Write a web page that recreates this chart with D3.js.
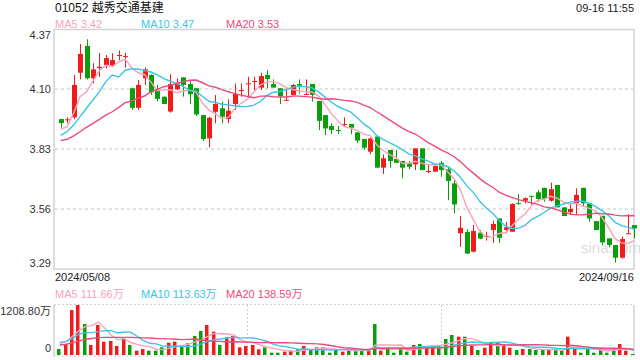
<!DOCTYPE html>
<html>
<head>
<meta charset="utf-8">
<script src="https://cdn.jsdelivr.net/npm/d3@7"></script>
<style>
body { margin: 0; background: #fff; }
svg { display: block; font-family: "Liberation Sans", Arial, "Noto Sans CJK SC", sans-serif; }
</style>
</head>
<body>
<svg></svg>
<script>
// 01052 daily k-line, 2024/05/08 - 2024/09/16, volume in 万
var opens  = [3.966,3.963,3.974,4.175,4.296,4.15,4.196,4.21,4.207,4.253,4.248,4.105,4.017,4.15,4.165,4.097,4.067,4.0,4.10,4.154,
              4.124,4.105,3.984,3.879,3.999,4.015,3.966,4.034,4.095,4.125,4.136,4.108,4.165,4.124,4.105,4.051,4.075,4.124,4.077,4.124,
              4.048,3.984,3.935,3.917,3.942,3.944,3.906,3.876,3.819,3.887,3.747,3.827,3.786,3.777,3.767,3.762,3.834,3.730,3.729,3.769,
              3.739,3.676,3.451,3.457,3.368,3.454,3.437,3.466,3.518,3.466,3.458,3.587,3.598,3.62,3.636,3.656,3.598,3.669,3.568,3.546,
              3.586,3.656,3.586,3.506,3.53,3.428,3.398,3.341,3.449,3.488];
var highs  = [3.966,3.974,4.165,4.305,4.326,4.218,4.265,4.255,4.263,4.275,4.265,4.108,4.142,4.199,4.168,4.12,4.067,4.168,4.15,4.154,
              4.142,4.105,3.984,3.977,4.075,4.045,4.055,4.127,4.127,4.157,4.157,4.175,4.187,4.145,4.105,4.105,4.124,4.145,4.145,4.124,
              4.048,3.984,3.947,3.935,3.974,3.944,3.906,3.876,3.882,3.887,3.807,3.827,3.827,3.777,3.777,3.834,3.834,3.762,3.758,3.777,
              3.751,3.696,3.529,3.469,3.488,3.466,3.458,3.508,3.518,3.503,3.586,3.628,3.613,3.62,3.646,3.656,3.679,3.669,3.568,3.586,
              3.654,3.656,3.586,3.506,3.53,3.428,3.398,3.436,3.538,3.488];
var lows   = [3.927,3.947,3.965,4.145,4.145,4.127,4.157,4.195,4.20,4.232,4.198,4.007,4.007,4.12,4.075,4.045,4.034,3.995,4.097,4.067,
              4.034,3.98,3.867,3.839,3.947,3.947,3.947,4.007,4.067,4.07,4.094,4.097,4.105,4.108,4.034,4.049,4.075,4.082,4.075,4.045,
              3.917,3.894,3.899,3.899,3.932,3.898,3.857,3.827,3.807,3.747,3.718,3.747,3.769,3.699,3.739,3.736,3.736,3.721,3.729,3.706,
              3.601,3.541,3.39,3.357,3.365,3.424,3.418,3.408,3.408,3.451,3.458,3.58,3.586,3.58,3.594,3.594,3.594,3.568,3.529,3.534,
              3.534,3.571,3.503,3.466,3.398,3.388,3.318,3.337,3.449,3.428];
var closes = [3.948,3.965,4.12,4.26,4.15,4.19,4.202,4.241,4.232,4.255,4.25,4.017,4.12,4.19,4.087,4.057,4.034,4.124,4.127,4.12,
              4.078,3.987,3.876,3.972,4.034,3.977,4.004,4.079,4.097,4.127,4.138,4.16,4.147,4.108,4.07,4.053,4.12,4.117,4.079,4.075,
              3.958,3.924,3.917,3.914,3.944,3.927,3.869,3.837,3.879,3.747,3.789,3.777,3.769,3.747,3.751,3.834,3.736,3.732,3.754,3.736,
              3.687,3.581,3.476,3.36,3.461,3.427,3.439,3.493,3.431,3.478,3.583,3.585,3.609,3.618,3.606,3.606,3.65,3.568,3.529,3.561,
              3.624,3.586,3.518,3.466,3.41,3.398,3.341,3.425,3.451,3.473];
var volumes = [145,266,1088,1208.8,750,242,725,322,339,218,387,242,105,145,105,105,185,298,322,218,
               282,459,580,725,564,242,427,459,185,218,242,137,185,56,56,81,105,137,218,121,
               185,185,56,137,81,105,137,105,105,750,105,161,56,137,81,242,266,185,218,242,
               387,484,443,443,218,121,177,298,298,266,177,121,145,145,121,121,121,121,97,443,
               145,56,161,56,161,56,137,266,105,24];

var ma5Head  = [3.92,3.932,3.992,4.067];
var ma10Head = [3.893,3.909,3.939,3.977,4.015,4.052,4.09,4.135,4.165];
var ma20Head = [3.869,3.875,3.89,3.909,3.929,3.947,3.965,3.984,3.999,4.019,4.04,4.048,4.06,4.07,4.09,4.1,4.112,4.118,4.128];
var vma5Head  = [282,322,459,588];
var vma10Head = [306,322,403,508,540,540,564,588,588];
var vma20Head = [242,260,300,340,380,400,420,425,427,427,427,427,420,415,410,400,395,390,380];

var priceTicks = [4.37, 4.10, 3.83, 3.56, 3.29];
var volTicks = [1208.8, 0];
var dateLabels = ['2024/05/08', '2024/09/16'];
var title = '01052 越秀交通基建';
var stamp = '09-16 11:55';
var maLegend = ['MA5 3.42', 'MA10 3.47', 'MA20 3.53'];
var volLegend = ['MA5 111.66万', 'MA10 113.63万', 'MA20 138.59万'];

var RED = '#f01c1c', GREEN = '#0a9f0a';
var MA_COLORS = ['#f8a3bd', '#3cc5e6', '#ec4a7c'];

var left = 54, right = 634;
var mainTop = 29.5, mainBottom = 269;
var volTop = 305, volBottom = 355;

var svg = d3.select('svg')
    .attr('width', 640)
    .attr('height', 360);

svg.append('rect').attr('width', 640).attr('height', 360).attr('fill', '#fff');

var idx = d3.range(closes.length);

var x = d3.scaleBand().domain(idx).range([57.5, 637.7]).paddingInner(0.2).paddingOuter(0.1);
var y = d3.scaleLinear().domain([3.29, 4.37]).range([mainBottom, mainTop]);
var yv = d3.scaleLinear().domain([0, 1208.8]).range([volBottom, volTop]);

function cx(i) { return x(i) + x.bandwidth() / 2; }
function isUp(i) { return closes[i] >= opens[i]; }

function movingAvg(values, n, head) {
  return values.map(function(v, i) {
    if (i < n - 1) return head[i];
    return d3.mean(values.slice(i - n + 1, i + 1));
  });
}

// ---- header text
svg.append('text')
    .attr('x', 55).attr('y', 12)
    .attr('font-size', 12).attr('fill', '#111')
    .text(title);

svg.append('text')
    .attr('x', 634).attr('y', 12)
    .attr('text-anchor', 'end')
    .attr('font-size', 11).attr('fill', '#222')
    .text(stamp);

var legendX = [55, 141, 226];
maLegend.forEach(function(t, k) {
  svg.append('text')
      .attr('x', legendX[k]).attr('y', 28)
      .attr('font-size', 11).attr('fill', MA_COLORS[k])
      .text(t);
});
volLegend.forEach(function(t, k) {
  svg.append('text')
      .attr('x', legendX[k]).attr('y', 298)
      .attr('font-size', 11).attr('fill', MA_COLORS[k])
      .text(t);
});

// ---- main panel frame + grid
svg.append('rect')
    .attr('x', left).attr('y', mainTop)
    .attr('width', right - left).attr('height', mainBottom - mainTop)
    .attr('fill', 'none').attr('stroke', '#d2d2d2').attr('stroke-width', 1.5);

svg.selectAll('.grid')
    .data(priceTicks.slice(1, -1))
    .enter().append('line')
    .attr('class', 'grid')
    .attr('x1', left + 1).attr('x2', right - 1)
    .attr('y1', function(d) { return Math.round(y(d)); })
    .attr('y2', function(d) { return Math.round(y(d)); })
    .attr('stroke', '#e2e2e2').attr('stroke-width', 2)
    .attr('stroke-dasharray', '3,3');

svg.selectAll('.ptick')
    .data(priceTicks)
    .enter().append('text')
    .attr('class', 'ptick')
    .attr('x', 51)
    .attr('y', function(d) { return Math.min(Math.max(y(d) + 4, 39), 267); })
    .attr('text-anchor', 'end')
    .attr('font-size', 11).attr('fill', '#333')
    .text(function(d) { return d.toFixed(2); });

svg.append('text')
    .attr('x', 55).attr('y', 281)
    .attr('font-size', 11).attr('fill', '#222')
    .text(dateLabels[0]);
svg.append('text')
    .attr('x', 634).attr('y', 281)
    .attr('text-anchor', 'end')
    .attr('font-size', 11).attr('fill', '#222')
    .text(dateLabels[1]);

svg.append('text')
    .attr('x', 581).attr('y', 253)
    .attr('font-size', 15).attr('fill', '#d4d4d4')
    .attr('opacity', 0.8)
    .text('sina.com');

// ---- candles
var candles = svg.append('g').attr('class', 'candles');

candles.selectAll('.wick')
    .data(idx)
    .enter().append('line')
    .attr('class', 'wick')
    .attr('x1', function(i) { return Math.round(cx(i)) + 0.5; })
    .attr('x2', function(i) { return Math.round(cx(i)) + 0.5; })
    .attr('y1', function(i) { return y(highs[i]); })
    .attr('y2', function(i) { return y(lows[i]); })
    .attr('stroke', function(i) { return isUp(i) ? RED : GREEN; })
    .attr('stroke-width', 1);

candles.selectAll('.body')
    .data(idx)
    .enter().append('rect')
    .attr('class', 'body')
    .attr('x', function(i) { return Math.round(cx(i)) - 2; })
    .attr('width', 5)
    .attr('y', function(i) { return y(Math.max(opens[i], closes[i])); })
    .attr('height', function(i) {
      return Math.max(1, Math.abs(y(opens[i]) - y(closes[i])));
    })
    .attr('fill', function(i) { return isUp(i) ? RED : GREEN; });

// ---- price MA lines
var priceLine = d3.line()
    .x(function(d, i) { return cx(i); })
    .y(function(d) { return y(d); });

[[5, ma5Head], [10, ma10Head], [20, ma20Head]].forEach(function(m, k) {
  svg.append('path')
      .datum(movingAvg(closes, m[0], m[1]))
      .attr('d', priceLine)
      .attr('fill', 'none')
      .attr('stroke', MA_COLORS[k])
      .attr('stroke-width', 1.4);
});

// ---- volume panel
svg.append('line')
    .attr('x1', left).attr('x2', right).attr('y1', volTop - 0.5).attr('y2', volTop - 0.5)
    .attr('stroke', '#cfcfcf').attr('stroke-dasharray', '2,2');
svg.append('line')
    .attr('x1', left).attr('x2', right).attr('y1', volBottom + 1).attr('y2', volBottom + 1)
    .attr('stroke', '#cfcfcf').attr('stroke-dasharray', '2,2');
svg.append('line')
    .attr('x1', left).attr('x2', left).attr('y1', volTop).attr('y2', volBottom + 1)
    .attr('stroke', '#d2d2d2').attr('stroke-width', 1.5);
svg.append('line')
    .attr('x1', right).attr('x2', right).attr('y1', volTop).attr('y2', volBottom + 1)
    .attr('stroke', '#d2d2d2').attr('stroke-width', 1.5);

[1, 2].forEach(function(k) {
  var vx = Math.round(left + (right - left) * k / 3) + 0.5;
  svg.append('line')
      .attr('x1', vx).attr('x2', vx).attr('y1', volTop).attr('y2', volBottom)
      .attr('stroke', '#cfcfcf').attr('stroke-dasharray', '2,2');
});

svg.selectAll('.vtick')
    .data(volTicks)
    .enter().append('text')
    .attr('class', 'vtick')
    .attr('x', 51)
    .attr('y', function(d) { return Math.min(Math.max(yv(d) + 10, 315), 352); })
    .attr('text-anchor', 'end')
    .attr('font-size', 11).attr('fill', '#333')
    .text(function(d) { return d === 0 ? '0' : d.toFixed(2) + '万'; });

svg.append('g').selectAll('.vbar')
    .data(idx)
    .enter().append('rect')
    .attr('class', 'vbar')
    .attr('x', function(i) { return Math.round(x(i)) - 1; })
    .attr('width', 3.5)
    .attr('y', function(i) { return yv(volumes[i]); })
    .attr('height', function(i) { return volBottom - yv(volumes[i]); })
    .attr('fill', function(i) { return isUp(i) ? RED : GREEN; });

var volLine = d3.line()
    .x(function(d, i) { return cx(i) - 1; })
    .y(function(d) { return yv(d); });

[[5, vma5Head], [10, vma10Head], [20, vma20Head]].forEach(function(m, k) {
  svg.append('path')
      .datum(movingAvg(volumes, m[0], m[1]))
      .attr('d', volLine)
      .attr('fill', 'none')
      .attr('stroke', MA_COLORS[k])
      .attr('stroke-width', 1.4);
});
</script>
</body>
</html>
